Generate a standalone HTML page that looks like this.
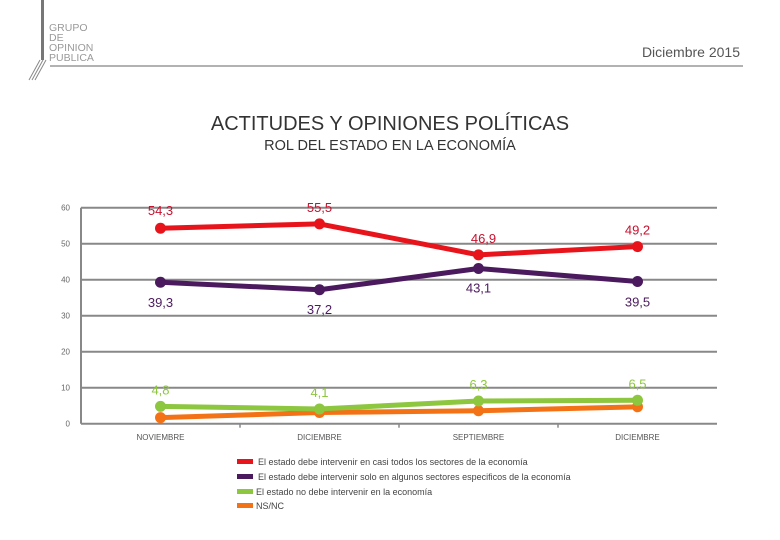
<!DOCTYPE html>
<html><head><meta charset="utf-8"><style>
body{margin:0;background:#fff;width:780px;height:540px;overflow:hidden;font-family:"Liberation Sans",sans-serif}
</style></head><body>
<svg width="780" height="540" style="position:absolute;left:0;top:0">
<g>
<rect x="41" y="0" width="3" height="60" fill="#777"/>
<line x1="40" y1="60" x2="29" y2="80" stroke="#888" stroke-width="1"/>
<line x1="43" y1="60" x2="32" y2="80" stroke="#888" stroke-width="1"/>
<line x1="46" y1="60" x2="35" y2="80" stroke="#888" stroke-width="1"/>
<text x="49" y="31" font-size="10.5" fill="#999">GRUPO</text>
<text x="49" y="41" font-size="10.5" fill="#999">DE</text>
<text x="49" y="51" font-size="10.5" fill="#999">OPINION</text>
<text x="49" y="61" font-size="10.5" fill="#999">PUBLICA</text>
</g>
<text x="740" y="57" text-anchor="end" font-size="14" fill="#555">Diciembre 2015</text>
<line x1="50" y1="66" x2="743" y2="66" stroke="#999" stroke-width="1.5"/>
<text x="390" y="130" text-anchor="middle" font-size="20" fill="#333">ACTITUDES Y OPINIONES POLÍTICAS</text>
<text x="390" y="150" text-anchor="middle" font-size="14.5" fill="#333">ROL DEL ESTADO EN LA ECONOMÍA</text>
<g id="plot"></g>
<g font-size="9" fill="#444">
<rect x="237" y="459" width="16" height="5" fill="#e8141c"/>
<text x="258" y="465">El estado debe intervenir en casi todos los sectores  de la economía</text>
<rect x="237" y="474" width="16" height="5" fill="#4b1a5e"/>
<text x="258" y="480">El estado debe intervenir solo en algunos sectores especificos de la economía</text>
<rect x="237" y="489" width="16" height="5" fill="#8dc63f"/>
<text x="256" y="495">El estado no debe intervenir  en  la economía</text>
<rect x="237" y="503" width="16" height="5" fill="#f47216"/>
<text x="256" y="509">NS/NC</text>
</g>
</svg>
<script>
const categories=["NOVIEMBRE","DICIEMBRE","SEPTIEMBRE","DICIEMBRE"];
const yTicks=[0,10,20,30,40,50,60];
const todos=[54.3,55.5,46.9,49.2];
const algunos=[39.3,37.2,43.1,39.5];
const noInterv=[4.8,4.1,6.3,6.5];
const nsnc=[1.7,3.1,3.6,4.7];
const todosLabels=["54,3","55,5","46,9","49,2"];
const algunosLabels=["39,3","37,2","43,1","39,5"];
const noLabels=["4,8","4,1","6,3","6,5"];

const NS="http://www.w3.org/2000/svg";
const g=document.getElementById('plot');
const L=81,R=717,T=207.7,B=423.7,MAX=60;
const x=i=>L+(R-L)/categories.length*(i+0.5);
const y=v=>B-(B-T)*v/MAX;
function mk(tag,attrs,parent){const e=document.createElementNS(NS,tag);for(const k in attrs)e.setAttribute(k,attrs[k]);(parent||g).appendChild(e);return e;}
yTicks.forEach(t=>{
  const ln=mk('line',{x1:L,x2:R,y1:y(t),y2:y(t),stroke:'#888','stroke-width':2});
  
  
  const tx=mk('text',{x:70,y:y(t)+3,'text-anchor':'end','font-size':8,fill:'#666'});
  tx.textContent=t;
  
  
});
const ax=mk('line',{x1:L,x2:L,y1:T,y2:B,stroke:'#888','stroke-width':2});


categories.forEach((c,i)=>{
  const tx=mk('text',{x:x(i),y:440,'text-anchor':'middle','font-size':8,fill:'#555'});
  tx.textContent=c;
  
  
  if(i>0){const tk=mk('line',{x1:L+(R-L)/4*i,x2:L+(R-L)/4*i,y1:B,y2:B+4,stroke:'#888','stroke-width':1.5});
  
  }
});
function series(vals,color,name){
  const pl=mk('polyline',{points:vals.map((v,i)=>x(i)+','+y(v)).join(' '),fill:'none',stroke:color,'stroke-width':5,'stroke-linejoin':'round'});
  
  
  vals.forEach((v,i)=>{
    const c=mk('circle',{cx:x(i),cy:y(v),r:5.5,fill:color});
    
    
  });
}
series(nsnc,'#f47216','nsnc');
series(noInterv,'#8dc63f','no-intervenir');
series(algunos,'#4b1a5e','algunos-sectores');
series(todos,'#e8141c','todos-sectores');
function labels(vals,txt,color,off,dx,name){
  vals.forEach((v,i)=>{
    const t=mk('text',{x:x(i)+dx[i],y:y(v)+off[i],'text-anchor':'middle','font-size':13,fill:color});
    t.textContent=txt[i];
    
    
  });
}
labels(todos,todosLabels,'#c8102e',[-13,-12,-12,-12],[0,0,5,0],'todos-sectores');
labels(algunos,algunosLabels,'#4b1a5e',[25,24,24,25],[0,0,0,0],'algunos-sectores');
labels(noInterv,noLabels,'#8dc63f',[-12,-12,-12,-12],[0,0,0,0],'no-intervenir');
</script>
</body></html>
